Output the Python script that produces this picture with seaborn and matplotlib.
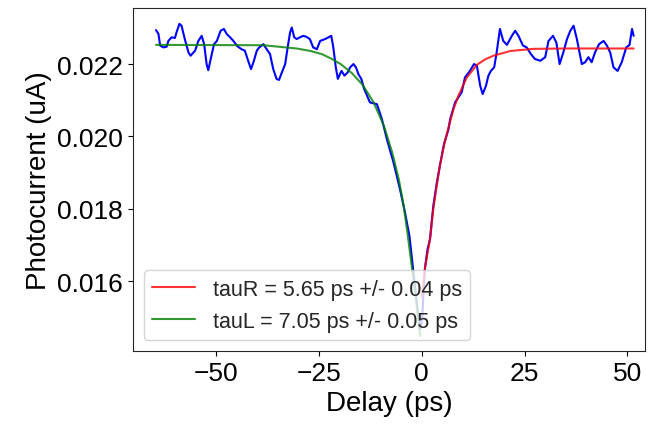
import numpy as np
import pandas as pd
import seaborn as sns
import matplotlib
matplotlib.use("Agg")
import matplotlib.pyplot as plt

delay = [-64.6, -64.0, -63.6, -62.8, -62.0, -61.6, -60.8, -60.0, -59.6, -58.9,
         -58.4, -57.6, -56.7, -56.2, -55.1, -54.3, -53.5, -52.9, -52.3, -51.9,
         -51.2, -50.5, -49.8, -48.9, -48.1, -47.4, -46.6, -45.8, -44.8, -43.8,
         -43.0, -42.2, -41.5, -40.8, -40.1, -39.5, -38.5, -37.7, -36.9, -36.1,
         -35.3, -34.7, -34.0, -33.2, -32.6, -32.0, -31.6, -31.0, -30.4, -29.6,
         -28.8, -28.0, -27.2, -26.4, -25.5, -24.7, -23.5, -22.0, -21.5, -20.9,
         -20.4, -19.9, -19.5, -18.8, -18.0, -17.4, -16.6, -16.0, -15.4, -14.7,
         -14.0, -12.6, -10.9, -9.7, -8.5, -6.9, -5.3, -4.1, -3.0, -2.2,
         -1.6, -0.9, -0.4, 0.1, 0.4, 0.8, 1.4, 2.0, 2.8, 3.6,
         4.4, 5.4, 6.5, 6.9, 8.1, 8.9, 9.7, 10.5, 11.7, 12.7,
         13.4, 14.2, 14.8, 15.6, 16.2, 16.8, 17.6, 18.2, 19.0, 19.8,
         20.7, 21.9, 22.7, 23.5, 24.6, 25.5, 26.5, 27.5, 28.8, 30.0,
         30.8, 31.9, 32.7, 33.5, 34.4, 35.3, 36.1, 36.9, 37.7, 38.9,
         39.7, 40.5, 41.3, 42.1, 43.1, 44.2, 45.0, 45.8, 46.6, 47.6,
         48.6, 49.7, 50.5, 51.1, 51.5]
current = [0.02294, 0.02283, 0.02251, 0.02246, 0.02248, 0.02264, 0.02274, 0.02272, 0.02288, 0.02311,
           0.02306, 0.02269, 0.02232, 0.02223, 0.02237, 0.02264, 0.02278, 0.02255, 0.02200, 0.02183,
           0.02219, 0.02255, 0.02264, 0.02292, 0.02297, 0.02283, 0.02274, 0.02264, 0.02249, 0.02241,
           0.02237, 0.02209, 0.02186, 0.02209, 0.02237, 0.02246, 0.02255, 0.02241, 0.02228, 0.02186,
           0.02159, 0.02156, 0.02177, 0.02200, 0.02246, 0.02288, 0.02301, 0.02274, 0.02269, 0.02274,
           0.02278, 0.02275, 0.02269, 0.02246, 0.02241, 0.02264, 0.02269, 0.02278, 0.02246, 0.02191,
           0.02159, 0.02172, 0.02181, 0.02168, 0.02177, 0.02191, 0.02200, 0.02191, 0.02172, 0.02159,
           0.02131, 0.02094, 0.02089, 0.02048, 0.01993, 0.01929, 0.01854, 0.01791, 0.01725, 0.01642,
           0.01578, 0.01509, 0.01467, 0.01495, 0.01564, 0.01638, 0.01688, 0.01716, 0.01808, 0.01868,
           0.01919, 0.01979, 0.02020, 0.02048, 0.02094, 0.02108, 0.02122, 0.02163, 0.02181, 0.02200,
           0.02195, 0.02140, 0.02117, 0.02140, 0.02168, 0.02181, 0.02191, 0.02232, 0.02297, 0.02264,
           0.02253, 0.02278, 0.02292, 0.02278, 0.02251, 0.02246, 0.02228, 0.02214, 0.02209, 0.02219,
           0.02264, 0.02278, 0.02260, 0.02200, 0.02232, 0.02269, 0.02292, 0.02306, 0.02269, 0.02200,
           0.02205, 0.02219, 0.02205, 0.02232, 0.02255, 0.02264, 0.02251, 0.02232, 0.02191, 0.02181,
           0.02205, 0.02246, 0.02253, 0.02297, 0.02278]

# right-hand exponential fit
fit_r_delay = [0.0, 0.8, 2.0, 2.8, 3.6, 4.4, 5.4, 6.5, 7.7, 8.9, 10.9, 13.4, 15.4, 17.4,
               21.5, 27.1, 35.0, 51.5]
fit_r_current = [0.01556, 0.01638, 0.01716, 0.01799, 0.01862, 0.01919, 0.01975, 0.02025,
                 0.02075, 0.02112, 0.02162, 0.02198, 0.02213, 0.02223, 0.02236, 0.02242,
                 0.02243, 0.02243]

# left-hand exponential fit
fit_l_delay = [-64.6, -38.5, -30.4, -27.0, -24.2, -22.0, -19.6, -17.0, -14.4, -11.7,
               -9.2, -7.2, -5.6, -4.4, -3.5, -2.4, -1.4, -0.4]
fit_l_current = [0.02253, 0.02252, 0.02243, 0.02236, 0.02227, 0.02215, 0.02199, 0.02175,
                 0.02143, 0.02094, 0.02029, 0.01956, 0.01882, 0.01808, 0.01735, 0.01638,
                 0.01550, 0.01448]

label_r = "tauR = 5.65 ps +/- 0.04 ps"
label_l = "tauL = 7.05 ps +/- 0.05 ps"

sns.set_style("ticks")
plt.rcParams['font.family'] = ['Liberation Sans', 'DejaVu Sans']

fig = plt.figure(figsize=(6.55, 4.31), dpi=100)
ax = fig.add_axes([0.203, 0.183, 0.782, 0.796])

sns.lineplot(x=delay, y=current, color="blue", lw=1.5, sort=False, ax=ax)
sns.lineplot(x=fit_r_delay, y=fit_r_current, color="red", lw=1.5, alpha=0.8,
             sort=False, ax=ax, label=label_r)
sns.lineplot(x=fit_l_delay, y=fit_l_current, color="green", lw=1.5, alpha=0.8,
             sort=False, ax=ax, label=label_l)

ax.set_xlim(-70.2, 54.3)
ax.set_ylim(0.014064, 0.023548)
ax.set_xticks([-50, -25, 0, 25, 50])
ax.set_yticks([0.016, 0.018, 0.020, 0.022])
ax.set_yticklabels(["0.016", "0.018", "0.020", "0.022"])
ax.tick_params(labelsize=19, colors="black")
ax.set_xlabel("Delay (ps)", fontsize=20, color="black")
ax.set_ylabel("Photocurrent (uA)", fontsize=20, color="black")
ax.legend(loc="lower left", fontsize=15.5, framealpha=0.8)

fig.savefig("out.png", dpi=100)
